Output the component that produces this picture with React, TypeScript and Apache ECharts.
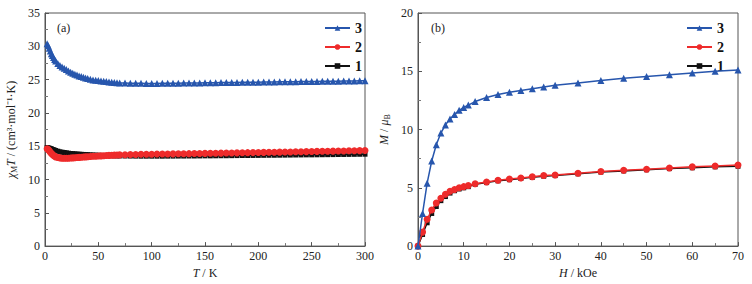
import React, { useEffect, useRef } from "react";
import * as echarts from "echarts";

// ---- Panel (a): chi_M T vs T ----
const tempK = [
  2, 3, 4, 5, 6, 7, 8, 9, 10,
  12, 14, 16, 18, 20, 22, 24, 26, 28, 30, 32, 34, 36, 38, 40,
  42.5, 45, 47.5, 50, 52.5, 55, 57.5, 60, 62.5, 65, 67.5, 70,
  75, 80, 85, 90, 95, 100, 105, 110, 115, 120, 125, 130, 135, 140, 145, 150,
  155, 160, 165, 170, 175, 180, 185, 190, 195, 200, 205, 210, 215, 220, 225,
  230, 235, 240, 245, 250, 255, 260, 265, 270, 275, 280, 285, 290, 295, 300,
];
const chiT3 = [
  30.4, 30.1, 29.7, 29.3, 28.9, 28.6, 28.3, 28.0, 27.8,
  27.4, 27.1, 26.9, 26.7, 26.5, 26.3, 26.1, 25.95, 25.8, 25.7, 25.55, 25.45, 25.35, 25.25, 25.15,
  25.05, 24.95, 24.9, 24.85, 24.8, 24.75, 24.7, 24.65, 24.6, 24.57, 24.53, 24.5,
  24.48, 24.46, 24.45, 24.44, 24.43, 24.43, 24.43, 24.44, 24.45, 24.46, 24.47, 24.48, 24.49, 24.5, 24.5, 24.52,
  24.53, 24.54, 24.55, 24.56, 24.57, 24.58, 24.59, 24.6, 24.61, 24.62, 24.63, 24.64, 24.65, 24.66, 24.67,
  24.68, 24.69, 24.7, 24.71, 24.72, 24.73, 24.74, 24.75, 24.76, 24.77, 24.78, 24.79, 24.8, 24.81, 24.82,
];
const chiT2 = [
  14.6, 14.5, 14.3, 14.1, 13.9, 13.75, 13.6, 13.5, 13.4,
  13.3, 13.25, 13.2, 13.2, 13.2, 13.2, 13.22, 13.25, 13.27, 13.3, 13.32, 13.35, 13.37, 13.4, 13.42,
  13.45, 13.48, 13.5, 13.52, 13.55, 13.57, 13.6, 13.62, 13.64, 13.66, 13.68, 13.7,
  13.72, 13.74, 13.76, 13.78, 13.8, 13.8, 13.82, 13.83, 13.84, 13.85, 13.86, 13.87, 13.88, 13.9, 13.91, 13.92,
  13.93, 13.95, 13.96, 13.97, 13.98, 14.0, 14.01, 14.03, 14.04, 14.05, 14.07, 14.08, 14.1, 14.11, 14.13,
  14.14, 14.16, 14.17, 14.19, 14.2, 14.22, 14.23, 14.25, 14.26, 14.28, 14.29, 14.31, 14.32, 14.34, 14.35,
];
const chiT1 = [
  14.8, 14.75, 14.7, 14.65, 14.6, 14.5, 14.45, 14.4, 14.35,
  14.25, 14.15, 14.1, 14.05, 14.0, 13.95, 13.9, 13.88, 13.85, 13.82, 13.8, 13.78, 13.76, 13.74, 13.72,
  13.7, 13.68, 13.66, 13.64, 13.62, 13.6, 13.6, 13.58, 13.57, 13.56, 13.55, 13.54,
  13.53, 13.52, 13.51, 13.5, 13.5, 13.5, 13.5, 13.5, 13.51, 13.51, 13.52, 13.52, 13.53, 13.53, 13.54, 13.55,
  13.55, 13.56, 13.57, 13.57, 13.58, 13.59, 13.6, 13.6, 13.61, 13.62, 13.63, 13.64, 13.64, 13.65, 13.66,
  13.67, 13.68, 13.69, 13.7, 13.7, 13.71, 13.72, 13.73, 13.74, 13.75, 13.76, 13.77, 13.78, 13.79, 13.8,
];

// ---- Panel (b): M vs H ----
const fieldKOe = [0, 1, 2, 3, 4, 5, 6, 7, 8, 9, 10, 11, 12.5, 15, 17.5, 20, 22.5, 25, 27.5, 30, 35, 40, 45, 50, 55, 60, 65, 70];
const mag3 = [0, 2.8, 5.4, 7.3, 8.7, 9.7, 10.4, 10.9, 11.3, 11.65, 11.9, 12.1, 12.4, 12.75, 13.0, 13.2, 13.35, 13.5, 13.65, 13.8, 14.0, 14.2, 14.4, 14.55, 14.7, 14.85, 15.0, 15.1];
const mag2 = [0, 1.2, 2.3, 3.1, 3.7, 4.1, 4.45, 4.7, 4.85, 5.0, 5.1, 5.2, 5.35, 5.5, 5.65, 5.75, 5.85, 5.95, 6.05, 6.1, 6.25, 6.4, 6.5, 6.6, 6.7, 6.8, 6.88, 6.95];
const mag1 = [0, 1.0, 2.0, 2.8, 3.4, 3.9, 4.25, 4.55, 4.75, 4.9, 5.0, 5.1, 5.3, 5.45, 5.6, 5.7, 5.8, 5.9, 6.0, 6.05, 6.2, 6.35, 6.45, 6.55, 6.65, 6.72, 6.8, 6.85];

const seriesNames = ["3", "2", "1"];
const colors: Record<string, string> = { "3": "#2756ad", "2": "#ee2b2b", "1": "#111111" };
const symbols: Record<string, string> = { "3": "triangle", "2": "circle", "1": "rect" };

const FONT = "Liberation Serif";

function zip(x: number[], y: number[]) {
  return x.map((v, i) => [v, y[i]]);
}

export default function App() {
  const ref = useRef<HTMLDivElement>(null);
  useEffect(() => {
    document.body.style.margin = "0";
    const chart = echarts.init(ref.current!, null, { renderer: "svg" });

    const axisCommon = {
      axisLine: { show: true, onZero: false, lineStyle: { color: "#555", width: 1 } },
      axisTick: { show: true, inside: true, length: 4, lineStyle: { color: "#555" } },
      minorTick: { show: true, splitNumber: 2, length: 3, lineStyle: { color: "#777" } },
      splitLine: { show: false },
      axisLabel: { color: "#222", fontFamily: FONT, fontSize: 12 },
      nameTextStyle: { color: "#222", fontFamily: FONT, fontSize: 12 },
    };

    const mkSeries = (name: string, grid: number, data: number[][], size: number) => ({
      name,
      type: "line",
      xAxisIndex: grid,
      yAxisIndex: grid,
      data,
      symbol: symbols[name],
      symbolSize: name === "1" ? size - 1 : size,
      showSymbol: true,
      color: colors[name],
      lineStyle: { width: 1.5, color: colors[name] },
      itemStyle: { color: colors[name] },
      z: name === "3" ? 4 : name === "2" ? 3 : 2,
    });

    const legendCommon = {
      orient: "vertical",
      data: seriesNames,
      itemWidth: 25,
      itemHeight: 7,
      itemGap: 5,
      textStyle: { fontFamily: FONT, fontSize: 14, fontWeight: "bold", color: "#111" },
    };

    chart.setOption({
      animation: false,
      backgroundColor: "#fff",
      grid: [
        { left: 45, top: 13, width: 320, height: 235, show: true, borderColor: "#555", borderWidth: 1 },
        { left: 418, top: 13, width: 320, height: 235, show: true, borderColor: "#555", borderWidth: 1 },
      ],
      legend: [
        { ...legendCommon, left: 319, top: 16 },
        { ...legendCommon, left: 681, top: 16 },
      ],
      xAxis: [
        {
          ...axisCommon,
          gridIndex: 0,
          type: "value",
          min: 0,
          max: 300,
          interval: 50,
          name: "{i|T} / K",
          nameLocation: "middle",
          nameGap: 17,
          axisLabel: { ...axisCommon.axisLabel, margin: 4 },
          nameTextStyle: {
            ...axisCommon.nameTextStyle,
            rich: { i: { fontStyle: "italic", fontFamily: FONT, fontSize: 12, color: "#222" } },
          },
        },
        {
          ...axisCommon,
          gridIndex: 1,
          type: "value",
          min: 0,
          max: 70,
          interval: 10,
          name: "{i|H} / kOe",
          nameLocation: "middle",
          nameGap: 17,
          axisLabel: { ...axisCommon.axisLabel, margin: 4 },
          nameTextStyle: {
            ...axisCommon.nameTextStyle,
            rich: { i: { fontStyle: "italic", fontFamily: FONT, fontSize: 12, color: "#222" } },
          },
        },
      ],
      yAxis: [
        {
          ...axisCommon,
          gridIndex: 0,
          type: "value",
          min: 0,
          max: 35,
          interval: 5,
          name: "{i|χ}{sub|M}{i|T} / (cm³·mol⁻¹·K)",
          nameLocation: "middle",
          nameGap: 27,
          nameRotate: 90,
          axisLabel: { ...axisCommon.axisLabel, margin: 5 },
          nameTextStyle: {
            ...axisCommon.nameTextStyle,
            rich: {
              i: { fontStyle: "italic", fontFamily: FONT, fontSize: 12, color: "#222" },
              sub: { fontFamily: FONT, fontSize: 8, color: "#222", verticalAlign: "top", padding: [6, 0, 0, 0] },
            },
          },
        },
        {
          ...axisCommon,
          gridIndex: 1,
          type: "value",
          min: 0,
          max: 20,
          interval: 5,
          name: "{i|M} / {i|μ}{sub|B}",
          nameLocation: "middle",
          nameGap: 27,
          nameRotate: 90,
          axisLabel: { ...axisCommon.axisLabel, margin: 5 },
          nameTextStyle: {
            ...axisCommon.nameTextStyle,
            rich: {
              i: { fontStyle: "italic", fontFamily: FONT, fontSize: 12, color: "#222" },
              sub: { fontFamily: FONT, fontSize: 8, color: "#222", verticalAlign: "top", padding: [6, 0, 0, 0] },
            },
          },
        },
      ],
      graphic: [
        { type: "text", left: 57, top: 22, style: { text: "(a)", fontFamily: FONT, fontSize: 12, fill: "#222" } },
        { type: "text", left: 431, top: 22, style: { text: "(b)", fontFamily: FONT, fontSize: 12, fill: "#222" } },
      ],
      series: [
        mkSeries("1", 0, zip(tempK, chiT1), 6),
        mkSeries("2", 0, zip(tempK, chiT2), 7),
        mkSeries("3", 0, zip(tempK, chiT3), 7),
        mkSeries("1", 1, zip(fieldKOe, mag1), 6),
        mkSeries("2", 1, zip(fieldKOe, mag2), 7),
        mkSeries("3", 1, zip(fieldKOe, mag3), 7),
      ],
    });
    return () => chart.dispose();
  }, []);
  return <div ref={ref} style={{ width: 752, height: 284 }} />;
}
